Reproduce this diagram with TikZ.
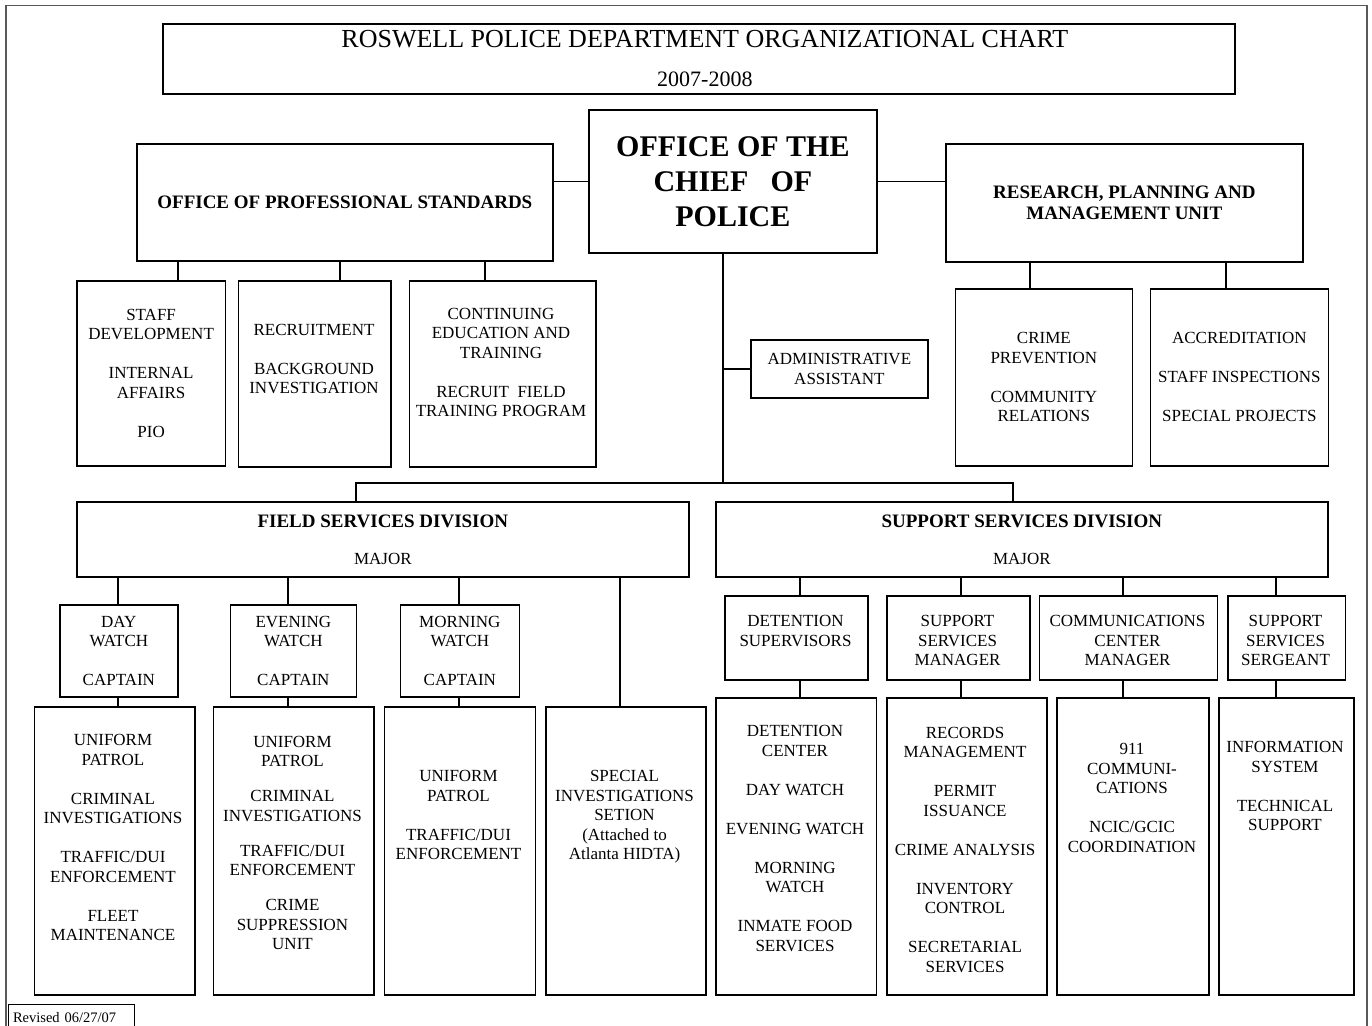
\documentclass[tikz,border=0pt]{standalone}
\usepackage{fontspec}
\setmainfont{Liberation Serif}

\tikzset{
	box/.style 2 args={draw, line width=1.7pt, anchor=north west, inner sep=0pt, align=center,
		minimum width=#1, minimum height=#2, font=\fontsize{17}{19.5}\selectfont},
	txt/.style={anchor=north, inner sep=0pt, align=center, font=\fontsize{17}{19.5}\selectfont},
	head/.style={font=\bfseries\fontsize{19}{21.5}\selectfont},
	link/.style={line width=1.7pt}
}

\begin{document}
\begin{tikzpicture}[x=1pt, y=-1pt]
	\useasboundingbox (0,0) rectangle (1372,1025);
	\draw[line width=1.3pt, black!65] (6,1040) -- (6,5.5) -- (1367,5.5) -- (1367,1040);

	% top row
	\node[box={1072}{70}, font=\fontsize{26}{30}\selectfont] (title) at (162,23) {\hspace*{12pt}ROSWELL POLICE DEPARTMENT ORGANIZATIONAL CHART\\[9pt]{\fontsize{22}{26}\selectfont\hspace*{12pt}2007-2008}};
	\node[box={288}{143}, font=\bfseries\fontsize{30}{35}\selectfont] (chief) at (588,109) {OFFICE OF THE\\CHIEF\hspace{22pt}OF\\POLICE};
	\node[box={416}{117}, head] (ops) at (136,143) {OFFICE OF PROFESSIONAL STANDARDS};
	\node[box={357}{118}, head] (rpm) at (945,143) {RESEARCH, PLANNING AND\\MANAGEMENT UNIT};

	% staff units
	\node[box={148.5}{185}] (staff) at (76,280) {STAFF\\DEVELOPMENT\\[19.5pt]INTERNAL\\AFFAIRS\\[19.5pt]PIO};
	\node[box={152.5}{186}] (recruit) at (237.5,280) {};
	\node[txt] (recruit-t) at (314,324) {RECRUITMENT\\[19.5pt]BACKGROUND\\INVESTIGATION};
	\node[box={186.5}{186}] (cont) at (408.5,280) {};
	\node[txt] (cont-t) at (501,308) {CONTINUING\\EDUCATION AND\\TRAINING\\[19.5pt]RECRUIT\ \ FIELD\\TRAINING PROGRAM};
	\node[box={177}{58}] (admin) at (750,339) {ADMINISTRATIVE\\ASSISTANT};
	\node[box={177}{177}] (crime) at (954.5,288) {CRIME\\PREVENTION\\[19.5pt]COMMUNITY\\RELATIONS};
	\node[box={178}{177}] (accred) at (1149.5,288) {ACCREDITATION\\[19.5pt]STAFF INSPECTIONS\\[19.5pt]SPECIAL PROJECTS};

	% divisions
	\node[box={612}{75}] (fsd) at (76,501) {{\bfseries\fontsize{19}{21.5}\selectfont FIELD SERVICES DIVISION}\\[17.5pt]MAJOR};
	\node[box={612}{75}] (ssd) at (715,501) {{\bfseries\fontsize{19}{21.5}\selectfont SUPPORT SERVICES DIVISION}\\[17.5pt]MAJOR};

	% field services
	\node[box={118}{92}] (day) at (59,604) {DAY\\WATCH\\[19.5pt]CAPTAIN};
	\node[box={126}{92}] (eve) at (229.5,604) {EVENING\\WATCH\\[19.5pt]CAPTAIN};
	\node[box={119}{92}] (morn) at (399.5,604) {MORNING\\WATCH\\[19.5pt]CAPTAIN};
	\node[box={160.5}{288}] (uni1) at (33.5,706) {};
	\node[txt] (uni1-t) at (113,734.5) {UNIFORM\\PATROL\\[19.5pt]CRIMINAL\\INVESTIGATIONS\\[19.5pt]TRAFFIC/DUI\\ENFORCEMENT\\[19.5pt]FLEET\\MAINTENANCE};
	\node[box={160.5}{288}] (uni2) at (212.5,706) {};
	\node[txt] (uni2-t) at (292.5,736) {UNIFORM\\PATROL\\[15.5pt]CRIMINAL\\INVESTIGATIONS\\[15.5pt]TRAFFIC/DUI\\ENFORCEMENT\\[15.5pt]CRIME\\SUPPRESSION\\UNIT};
	\node[box={151}{288}] (uni3) at (383.5,706) {};
	\node[txt] (uni3-t) at (458.5,770.5) {UNIFORM\\PATROL\\[19.5pt]TRAFFIC/DUI\\ENFORCEMENT};
	\node[box={160}{288}] (sis) at (545,706) {};
	\node[txt] (sis-t) at (624.5,770.5) {SPECIAL\\INVESTIGATIONS\\SETION\\(Attached to\\Atlanta HIDTA)};

	% support services
	\node[box={143}{84}] (detsup) at (724,595) {};
	\node[txt] (detsup-t) at (795.5,615.5) {DETENTION\\SUPERVISORS};
	\node[box={143}{84}] (ssm) at (886,595) {};
	\node[txt] (ssm-t) at (957.5,615.5) {SUPPORT\\SERVICES\\MANAGER};
	\node[box={178}{84}] (ccm) at (1038.5,595) {};
	\node[txt] (ccm-t) at (1127.5,615.5) {COMMUNICATIONS\\CENTER\\MANAGER};
	\node[box={117.5}{84}] (sss) at (1227,595) {};
	\node[txt] (sss-t) at (1285.5,615.5) {SUPPORT\\SERVICES\\SERGEANT};
	\node[box={160.5}{297}] (detc) at (715,697) {};
	\node[txt] (detc-t) at (795,725.5) {DETENTION\\CENTER\\[19.5pt]DAY WATCH\\[19.5pt]EVENING WATCH\\[19.5pt]MORNING\\WATCH\\[19.5pt]INMATE FOOD\\SERVICES};
	\node[box={160}{297}] (rec) at (886,697) {};
	\node[txt] (rec-t) at (965,727) {RECORDS\\MANAGEMENT\\[19.5pt]PERMIT\\ISSUANCE\\[19.5pt]CRIME ANALYSIS\\[19.5pt]INVENTORY\\CONTROL\\[19.5pt]SECRETARIAL\\SERVICES};
	\node[box={152}{297}] (comm) at (1056,697) {};
	\node[txt] (comm-t) at (1132,743.5) {911\\COMMUNI-\\CATIONS\\[19.5pt]NCIC/GCIC\\COORDINATION};
	\node[box={135}{297}] (info) at (1218,697) {};
	\node[txt] (info-t) at (1285,741.5) {INFORMATION\\SYSTEM\\[19.5pt]TECHNICAL\\SUPPORT};

	\node[draw, line width=1pt, anchor=north west, text width=116.5pt, align=left, inner xsep=5pt, inner ysep=0pt,
		minimum height=27, font=\fontsize{14.5}{17}\selectfont] (rev) at (7.5,1003.5) {Revised 06/27/07};

	% connectors
	\coordinate (hub) at (723,483);
	\draw[link] (ops.east |- chief.west) -- (chief.west);
	\draw[link] (chief.east) -- (rpm.west |- chief.east);
	\foreach \x/\n in {178/staff, 340/recruit, 485/cont}
		\draw[link] (\x,0 |- ops.south) -- (\x,0 |- \n.north);
	\foreach \x/\n in {1030/crime, 1226/accred}
		\draw[link] (\x,0 |- rpm.south) -- (\x,0 |- \n.north);
	\draw[link] (723,0 |- chief.south) -- (hub);
	\draw[link] (723,0 |- admin.west) -- (admin.west);
	\draw[link] (356,0 |- fsd.north) -- (356,0 |- hub) -- (1013,0 |- hub) -- (1013,0 |- ssd.north);
	\foreach \x/\a/\b in {118/day/uni1, 288/eve/uni2, 459/morn/uni3}
		\draw[link] (\x,0 |- fsd.south) -- (\x,0 |- \a.north) (\x,0 |- \a.south) -- (\x,0 |- \b.north);
	\draw[link] (620,0 |- fsd.south) -- (620,0 |- sis.north);
	\foreach \x/\a/\b in {800/detsup/detc, 961/ssm/rec, 1123/ccm/comm, 1276/sss/info}
		\draw[link] (\x,0 |- ssd.south) -- (\x,0 |- \a.north) (\x,0 |- \a.south) -- (\x,0 |- \b.north);
\end{tikzpicture}
\end{document}
